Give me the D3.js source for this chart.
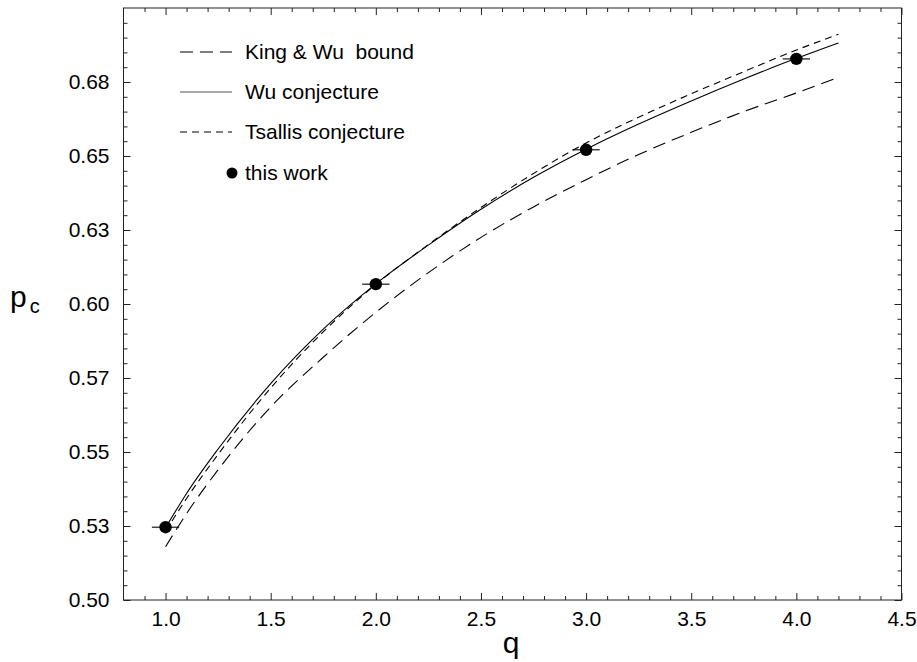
<!DOCTYPE html>
<html>
<head>
<meta charset="utf-8">
<script src="https://cdn.jsdelivr.net/npm/d3@7"></script>
<style>
  html, body { margin: 0; padding: 0; background: #fff; }
  svg { display: block; font-family: "Liberation Sans", Arial, Helvetica, sans-serif; }
  .tick text { font-size: 21px; fill: #000; }
</style>
</head>
<body>
<svg id="chart" width="917" height="662"></svg>
<script>
// q values at which the three analytic estimates are tabulated
const qGrid = [1.0, 1.1, 1.25, 1.5, 1.75, 2.0, 2.25, 2.5, 2.75, 3.0, 3.25, 3.5, 3.75, 4.0, 4.2];

// King & Wu bound
const kingWu = [0.5180, 0.5292, 0.5440, 0.5652, 0.5820, 0.5972, 0.6106, 0.6225, 0.6328, 0.6420, 0.6505, 0.6580, 0.6650, 0.6713, 0.6766];
// Wu conjecture
const wuConj = [0.5244, 0.5360, 0.5510, 0.5731, 0.5915, 0.6068, 0.6199, 0.6320, 0.6428, 0.6523, 0.6608, 0.6686, 0.6760, 0.6830, 0.6882];
// Tsallis conjecture
const tsallis = [0.5232, 0.5343, 0.5492, 0.5716, 0.5906, 0.6066, 0.6201, 0.6326, 0.6441, 0.6544, 0.6631, 0.6710, 0.6785, 0.6858, 0.6911];

// numerical results ("this work") with their horizontal error bars
const workQ = [1, 2, 3, 4];
const workP = [0.5246, 0.6067, 0.6521, 0.6828];
const workQErr = [0.065, 0.065, 0.065, 0.065];

// axes
const xTicks = [1.0, 1.5, 2.0, 2.5, 3.0, 3.5, 4.0, 4.5];
const xTickLabels = ["1.0", "1.5", "2.0", "2.5", "3.0", "3.5", "4.0", "4.5"];
const yTicks = [0.5, 0.525, 0.55, 0.575, 0.6, 0.625, 0.65, 0.675];
const yTickLabels = ["0.50", "0.53", "0.55", "0.57", "0.60", "0.63", "0.65", "0.68"];

const legendLabels = ["King & Wu  bound", "Wu conjecture", "Tsallis conjecture", "this work"];

const frame = { left: 123.5, right: 901.5, top: 8, bottom: 600 };

const svg = d3.select("#chart");

const x = d3.scaleLinear().domain([0.8, 4.5]).range([frame.left, frame.right]);
const y = d3.scaleLinear().domain([0.5, 0.7]).range([frame.bottom, frame.top]);

const xMinor = d3.range(9, 45).map(d => d / 10).filter(d => !xTicks.some(t => Math.abs(t - d) < 1e-9));
const yMinor = d3.range(101, 140).map(d => d / 200).filter(d => !yTicks.some(t => Math.abs(t - d) < 1e-9));

const MAJ = 7, MIN = 4;

function cleanAxis(g) {
  g.select(".domain").remove();
  g.selectAll(".tick line").attr("stroke", "#222").attr("stroke-width", 1);
}

// bottom axis (labelled) + minor ticks
svg.append("g").attr("transform", `translate(0,${frame.bottom})`)
  .call(d3.axisBottom(x).tickValues(xTicks).tickSize(-MAJ).tickPadding(11)
    .tickFormat((d, i) => xTickLabels[i]))
  .call(cleanAxis);
svg.append("g").attr("transform", `translate(0,${frame.bottom})`)
  .call(d3.axisBottom(x).tickValues(xMinor).tickSize(-MIN).tickFormat(""))
  .call(cleanAxis);

// top axis
svg.append("g").attr("transform", `translate(0,${frame.top})`)
  .call(d3.axisTop(x).tickValues(xTicks).tickSize(-MAJ).tickFormat(""))
  .call(cleanAxis);
svg.append("g").attr("transform", `translate(0,${frame.top})`)
  .call(d3.axisTop(x).tickValues(xMinor).tickSize(-MIN).tickFormat(""))
  .call(cleanAxis);

// left axis (labelled)
svg.append("g").attr("transform", `translate(${frame.left},0)`)
  .call(d3.axisLeft(y).tickValues(yTicks).tickSize(-MAJ).tickPadding(14)
    .tickFormat((d, i) => yTickLabels[i]))
  .call(cleanAxis);
svg.append("g").attr("transform", `translate(${frame.left},0)`)
  .call(d3.axisLeft(y).tickValues(yMinor).tickSize(-MIN).tickFormat(""))
  .call(cleanAxis);

// right axis
svg.append("g").attr("transform", `translate(${frame.right},0)`)
  .call(d3.axisRight(y).tickValues(yTicks).tickSize(-MAJ).tickFormat(""))
  .call(cleanAxis);
svg.append("g").attr("transform", `translate(${frame.right},0)`)
  .call(d3.axisRight(y).tickValues(yMinor).tickSize(-MIN).tickFormat(""))
  .call(cleanAxis);

// plot frame
svg.append("rect")
  .attr("x", frame.left).attr("y", frame.top)
  .attr("width", frame.right - frame.left).attr("height", frame.bottom - frame.top)
  .attr("fill", "none").attr("stroke", "#222").attr("stroke-width", 1);

// curves
const styles = [
  { data: kingWu, dash: "13,7" },
  { data: wuConj, dash: null },
  { data: tsallis, dash: "7,5" }
];
const line = d3.line()
  .x(d => x(d[0]))
  .y(d => y(d[1]))
  .curve(d3.curveMonotoneX);

styles.forEach(s => {
  svg.append("path")
    .datum(qGrid.map((q, i) => [q, s.data[i]]))
    .attr("d", line)
    .attr("fill", "none")
    .attr("stroke", "#000")
    .attr("stroke-width", 1.1)
    .attr("stroke-dasharray", s.dash);
});

// data points with horizontal error bars
const pts = workQ.map((q, i) => ({ q, p: workP[i], e: workQErr[i] }));
svg.append("g").selectAll("line").data(pts).join("line")
  .attr("x1", d => x(d.q - d.e)).attr("x2", d => x(d.q + d.e))
  .attr("y1", d => y(d.p)).attr("y2", d => y(d.p))
  .attr("stroke", "#000").attr("stroke-width", 1.1);
svg.append("g").selectAll("circle").data(pts).join("circle")
  .attr("cx", d => x(d.q)).attr("cy", d => y(d.p)).attr("r", 6.2)
  .attr("fill", "#000");

// legend
const lg = svg.append("g").attr("font-size", 21);
const rowY = [52, 92, 132, 173];
styles.forEach((s, i) => {
  lg.append("line")
    .attr("x1", 180).attr("x2", 232).attr("y1", rowY[i]).attr("y2", rowY[i])
    .attr("stroke", i === 1 ? "#555" : "#000").attr("stroke-width", 1)
    .attr("stroke-dasharray", s.dash);
});
lg.append("circle").attr("cx", 232).attr("cy", rowY[3]).attr("r", 5.5).attr("fill", "#000");
legendLabels.forEach((t, i) => {
  lg.append("text")
    .attr("x", 245).attr("y", rowY[i]).attr("dy", "0.35em")
    .style("white-space", "pre")
    .attr("fill", "#000")
    .text(t);
});

// axis titles
const yt = svg.append("text").attr("x", 10).attr("y", 307).attr("fill", "#000");
yt.append("tspan").attr("font-size", 30).text("p");
yt.append("tspan").attr("font-size", 20).attr("dx", 3).attr("dy", 6).text("c");

svg.append("text")
  .attr("x", 511).attr("y", 653)
  .attr("text-anchor", "middle")
  .attr("font-size", 30)
  .attr("fill", "#000")
  .text("q");
</script>
</body>
</html>
